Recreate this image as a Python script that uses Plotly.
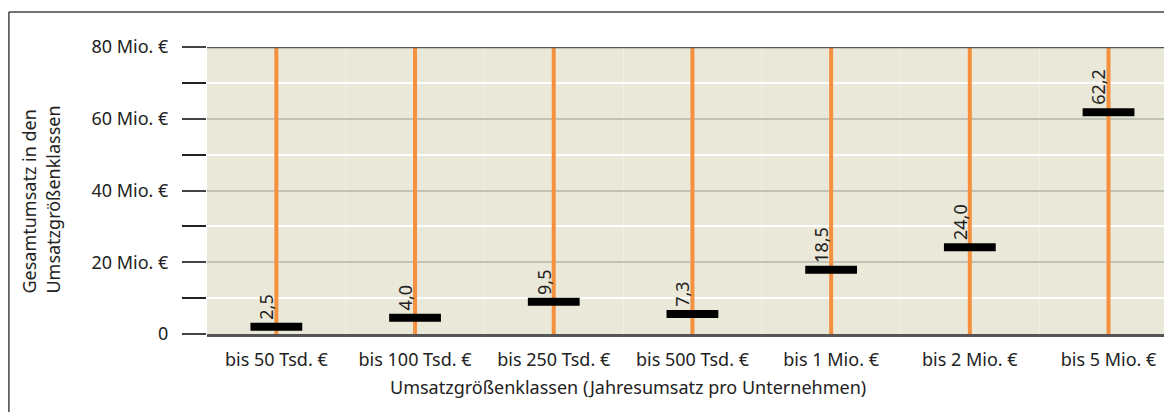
import plotly.graph_objects as go

categories = ["bis 50 Tsd. €", "bis 100 Tsd. €", "bis 250 Tsd. €", "bis 500 Tsd. €",
              "bis 1 Mio. €", "bis 2 Mio. €", "bis 5 Mio. €"]
label_values = [2.5, 4.0, 9.5, 7.3, 18.5, 24.0, 62.2]
marker_values = [2.0, 4.5, 9.0, 5.6, 17.9, 24.2, 61.8]
y_tickvals = [0, 20, 40, 60, 80]
y_ticktext = ["0", "20 Mio. €", "40 Mio. €", "60 Mio. €", "80 Mio. €"]
y_max = 80

FONT = "Noto Sans"
FS = 18
xs = list(range(len(categories)))

fig = go.Figure()

# orange vertical lines
lx, ly = [], []
for i in xs:
    lx += [i, i, None]
    ly += [0, y_max, None]
fig.add_trace(go.Scatter(x=lx, y=ly, mode="lines",
                         line=dict(color="#F5913E", width=4),
                         hoverinfo="skip", showlegend=False))

# black markers
fig.add_trace(go.Scatter(x=xs, y=marker_values, mode="markers",
                         marker=dict(symbol="line-ew", size=37,
                                     line=dict(color="black", width=8)),
                         showlegend=False))

for i, (lv, mv) in enumerate(zip(label_values, marker_values)):
    fig.add_annotation(x=i, y=mv, text=f"{lv:.1f}".replace(".", ","),
                       textangle=-90, showarrow=False,
                       xanchor="right", yanchor="bottom",
                       xshift=4, yshift=5,
                       font=dict(family=FONT, size=FS, color="#222"))

# top line at 80
fig.add_shape(type="line", xref="paper", yref="y", x0=0, x1=1, y0=y_max, y1=y_max,
              line=dict(color="#555", width=2.5))
# outer frame (top and left)
fig.add_shape(type="line", xref="paper", yref="paper", x0=-0.207, x1=1.0,
              y0=1.122, y1=1.122, line=dict(color="#444", width=1.5))
fig.add_shape(type="line", xref="paper", yref="paper", x0=-0.207, x1=-0.207,
              y0=1.122, y1=-0.3, line=dict(color="#444", width=1.5))

# axis titles
fig.add_annotation(xref="paper", yref="paper", x=0.44, y=-0.185,
                   text="Umsatzgrößenklassen (Jahresumsatz pro Unternehmen)",
                   showarrow=False, xanchor="center", yanchor="middle",
                   font=dict(family=FONT, size=FS, color="#222"))
fig.add_annotation(xref="paper", yref="paper", x=-0.174, y=0.47,
                   text="Gesamtumsatz in den<br>Umsatzgrößenklassen",
                   textangle=-90, showarrow=False, align="left",
                   xanchor="center", yanchor="middle",
                   font=dict(family=FONT, size=FS, color="#222"))

fig.update_layout(
    width=1164, height=412,
    margin=dict(l=207, r=0, t=47, b=78),
    paper_bgcolor="white", plot_bgcolor="#EAE8D8",
    font=dict(family=FONT, size=FS, color="#222"),
    xaxis=dict(range=[-0.5, 6.40], tickmode="array", tickvals=xs, ticktext=categories,
               ticks="", showgrid=False, zeroline=False,
               showline=True, linecolor="#555", linewidth=2.5,
               ticklabelstandoff=8,
               minor=dict(tick0=0.5, dtick=1, showgrid=True,
                          gridcolor="rgba(255,255,255,0.35)", gridwidth=1)),
    yaxis=dict(range=[0, y_max], tickmode="array", tickvals=y_tickvals, ticktext=y_ticktext,
               ticks="outside", ticklen=24, tickwidth=2, tickcolor="#444",
               showgrid=True, gridcolor="#C3C2B8", gridwidth=2, zeroline=False,
               ticklabelstandoff=10,
               minor=dict(tick0=0, dtick=10, ticks="outside", ticklen=24,
                          tickwidth=2, tickcolor="#222",
                          showgrid=True, gridcolor="white", gridwidth=1.5)),
)

fig.write_html("out.html", config={"displayModeBar": False},
               post_script="document.body.style.margin='0';document.body.style.overflow='hidden';")
